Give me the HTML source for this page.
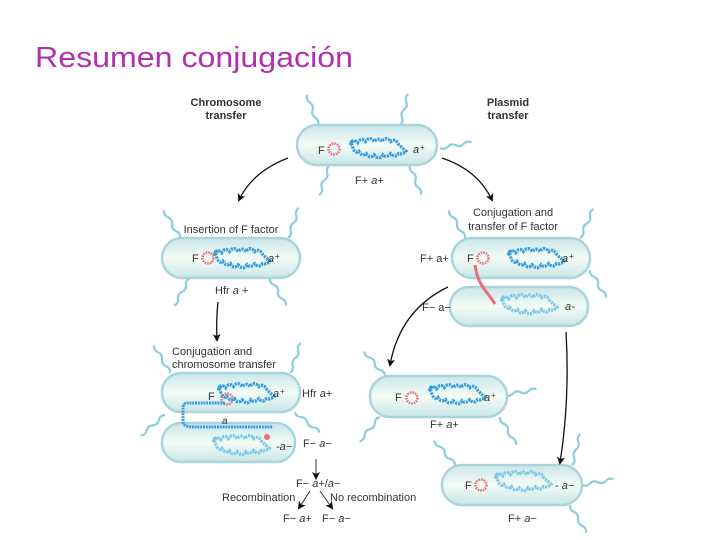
<!DOCTYPE html>
<html><head><meta charset="utf-8"><style>
html,body{margin:0;padding:0;background:#fff;}
svg{display:block}
text{font-family:"Liberation Sans",sans-serif;}
</style></head><body>
<svg width="720" height="540" viewBox="0 0 720 540" xmlns="http://www.w3.org/2000/svg">
<defs>
<linearGradient id="cg" x1="0" y1="0" x2="0" y2="1">
<stop offset="0" stop-color="#c9e6ea"/><stop offset="0.5" stop-color="#f3fbf4"/><stop offset="1" stop-color="#c9e6ea"/>
</linearGradient>
<marker id="ah" markerWidth="8" markerHeight="8" refX="6" refY="4" orient="auto" markerUnits="userSpaceOnUse">
<path d="M0,0 L8,4 L0,8 L2,4 z" fill="#111"/></marker>
<g id="chr">
<path d="M0,6 q3,-6 7,-2 q3,-5 7,-1 q4,-5 8,0 q4,-4 7,0 q4,-5 8,0 q4,-3 7,2 q3,3 7,6 q-3,3 -7,2 q-3,4 -7,0 q-4,4 -7,1 q-3,5 -8,0 q-4,4 -7,-1 q-4,3 -7,-2 q-4,3 -6,-5 q-3,-2 1,-4 z" fill="none" stroke="#3b9ede" stroke-width="2.8" stroke-dasharray="2 0.8" transform="scale(1.1,1.2)"/>
</g>
<g id="chrl">
<path d="M0,6 q3,-6 7,-2 q3,-5 7,-1 q4,-5 8,0 q4,-4 7,0 q4,-5 8,0 q4,-3 7,2 q3,3 7,6 q-3,3 -7,2 q-3,4 -7,0 q-4,4 -7,1 q-3,5 -8,0 q-4,4 -7,-1 q-4,3 -7,-2 q-4,3 -6,-5 q-3,-2 1,-4 z" fill="none" stroke="#7cc8e6" stroke-width="2.8" stroke-dasharray="2 0.8" transform="scale(1.1,1.2)"/>
</g>
<g id="fp"><circle r="5.5" fill="none" stroke="#e8707a" stroke-width="2.5" stroke-dasharray="1.6 1"/></g>
<path id="fl" d="M0,0 q3,-4 0,-8 q-3,-4 0,-8 q3,-4 0,-8 q-3,-4 0,-8" fill="none" stroke="#8ccfd8" stroke-width="2.2"/>
</defs>

<text x="35" y="67" font-size="29" fill="#b030b0" textLength="318" lengthAdjust="spacingAndGlyphs">Resumen conjugación</text>

<g font-size="11" font-weight="bold" fill="#333" text-anchor="middle">
<text x="226" y="106">Chromosome</text><text x="226" y="119">transfer</text>
<text x="508" y="106">Plasmid</text><text x="508" y="119">transfer</text>
</g>

<g>
<use href="#fl" transform="translate(318,125) rotate(-20)"/>
<use href="#fl" transform="translate(400,125) rotate(15)"/>
<use href="#fl" transform="translate(440,148) rotate(80)"/>
<use href="#fl" transform="translate(330,165) rotate(200)"/>
<use href="#fl" transform="translate(410,165) rotate(160)"/>
<use href="#fl" transform="translate(180,238) rotate(-30)"/>
<use href="#fl" transform="translate(288,238) rotate(20)"/>
<use href="#fl" transform="translate(190,278) rotate(210)"/>
<use href="#fl" transform="translate(270,278) rotate(150)"/>
<use href="#fl" transform="translate(170,373) rotate(-30)"/>
<use href="#fl" transform="translate(290,373) rotate(20)"/>
<use href="#fl" transform="translate(165,415) rotate(230)"/>
<use href="#fl" transform="translate(295,412) rotate(130)"/>
<use href="#fl" transform="translate(465,238) rotate(-30)"/>
<use href="#fl" transform="translate(580,238) rotate(25)"/>
<use href="#fl" transform="translate(590,270) rotate(150)"/>
<use href="#fl" transform="translate(385,376) rotate(-40)"/>
<use href="#fl" transform="translate(505,395) rotate(80)"/>
<use href="#fl" transform="translate(380,417) rotate(220)"/>
<use href="#fl" transform="translate(500,417) rotate(150)"/>
<use href="#fl" transform="translate(455,465) rotate(-40)"/>
<use href="#fl" transform="translate(572,465) rotate(15)"/>
<use href="#fl" transform="translate(582,485) rotate(80)"/>
<use href="#fl" transform="translate(570,505) rotate(150)"/>
</g>

<g fill="url(#cg)" stroke="#a9d5da" stroke-width="2.5">
<rect x="297" y="125" width="140" height="40" rx="20"/>
<rect x="162" y="238" width="138" height="40" rx="20"/>
<rect x="450" y="287" width="138" height="39" rx="19"/>
<rect x="452" y="238" width="138" height="40" rx="20"/>
<rect x="162" y="423" width="133" height="39" rx="19"/>
<rect x="162" y="373" width="138" height="39" rx="19"/>
<rect x="370" y="376" width="137" height="41" rx="20"/>
<rect x="442" y="465" width="140" height="40" rx="20"/>
</g>

<g font-size="11" fill="#333">
<text x="318" y="154">F</text><use href="#fp" x="334" y="149"/>
<use href="#chr" transform="translate(350,138)"/>
<text x="413" y="153" font-style="italic">a</text><text x="420" y="150" font-size="8">+</text>
<text x="355" y="184">F+ <tspan font-style="italic">a</tspan>+</text>

<text x="231" y="233" text-anchor="middle">Insertion of F factor</text>
<text x="192" y="262">F</text><use href="#fp" x="208" y="258"/>
<use href="#chr" transform="translate(214,248)"/>
<text x="268" y="262" font-style="italic">a</text><text x="275" y="259" font-size="8">+</text>
<text x="215" y="294">Hfr <tspan font-style="italic">a</tspan> +</text>

<text x="513" y="216" text-anchor="middle">Conjugation and</text>
<text x="513" y="230" text-anchor="middle">transfer of F factor</text>
<text x="420" y="262">F+ a+</text>
<text x="467" y="262">F</text><use href="#fp" x="483" y="258"/>
<use href="#chr" transform="translate(508,248)"/>
<text x="562" y="262" font-style="italic">a</text><text x="569" y="259" font-size="8">+</text>
<path d="M475,265 q2,15 10,25 q6,8 10,14" fill="none" stroke="#e8707a" stroke-width="3"/>
<text x="422" y="311">F− a−</text>
<use href="#chrl" transform="translate(501,294)"/>
<text x="565" y="310" font-style="italic">a-</text>

<text x="172" y="355">Conjugation and</text>
<text x="172" y="368">chromosome transfer</text>
<text x="208" y="400">F</text><use href="#fp" x="227" y="399"/>
<use href="#chr" transform="translate(218,383)"/>
<text x="273" y="397" font-style="italic">a</text><text x="280" y="394" font-size="8">+</text>
<text x="302" y="397">Hfr <tspan font-style="italic">a</tspan>+</text>
<path d="M225,403 h-38 q-4,0 -4,6 v12 q0,6 10,6 h80" fill="none" stroke="#3b9ede" stroke-width="3" stroke-dasharray="2 0.8"/>
<circle cx="267" cy="437" r="3" fill="#e8707a"/>
<text x="222" y="424" font-size="10" font-style="italic">a</text>
<use href="#chrl" transform="translate(213,435)"/>
<text x="276" y="450" font-style="italic">-a−</text>
<text x="303" y="447">F− <tspan font-style="italic">a</tspan>−</text>
<path d="M316,459 V478" stroke="#333" stroke-width="1" marker-end="url(#ah)"/>
<text x="296" y="487">F− <tspan font-style="italic">a</tspan>+/<tspan font-style="italic">a</tspan>−</text>
<text x="222" y="501">Recombination</text>
<text x="330" y="501">No recombination</text>
<path d="M310,491 L299,508" stroke="#333" stroke-width="1" marker-end="url(#ah)"/>
<path d="M320,491 L332,508" stroke="#333" stroke-width="1" marker-end="url(#ah)"/>
<text x="283" y="522">F− <tspan font-style="italic">a</tspan>+</text>
<text x="322" y="522">F− <tspan font-style="italic">a</tspan>−</text>

<text x="395" y="401">F</text><use href="#fp" x="412" y="398"/>
<use href="#chr" transform="translate(429,384)"/>
<text x="484" y="401" font-style="italic">a</text><text x="491" y="398" font-size="8">+</text>
<text x="430" y="428">F+ <tspan font-style="italic">a</tspan>+</text>

<text x="465" y="489">F</text><use href="#fp" x="481" y="485"/>
<use href="#chrl" transform="translate(495,471)"/>
<text x="555" y="489" font-style="italic">- a−</text>
<text x="508" y="522">F+ <tspan font-style="italic">a</tspan>−</text>
</g>

<g fill="none" stroke="#111" stroke-width="1.3">
<path d="M288,158 Q252,172 239,200" marker-end="url(#ah)"/>
<path d="M442,158 Q478,170 492,200" marker-end="url(#ah)"/>
<path d="M218,302 Q216,320 217,340" marker-end="url(#ah)"/>
<path d="M448,287 Q400,310 390,365" marker-end="url(#ah)"/>
<path d="M566,332 Q570,400 560,463" marker-end="url(#ah)"/>
</g>
</svg>
</body></html>
